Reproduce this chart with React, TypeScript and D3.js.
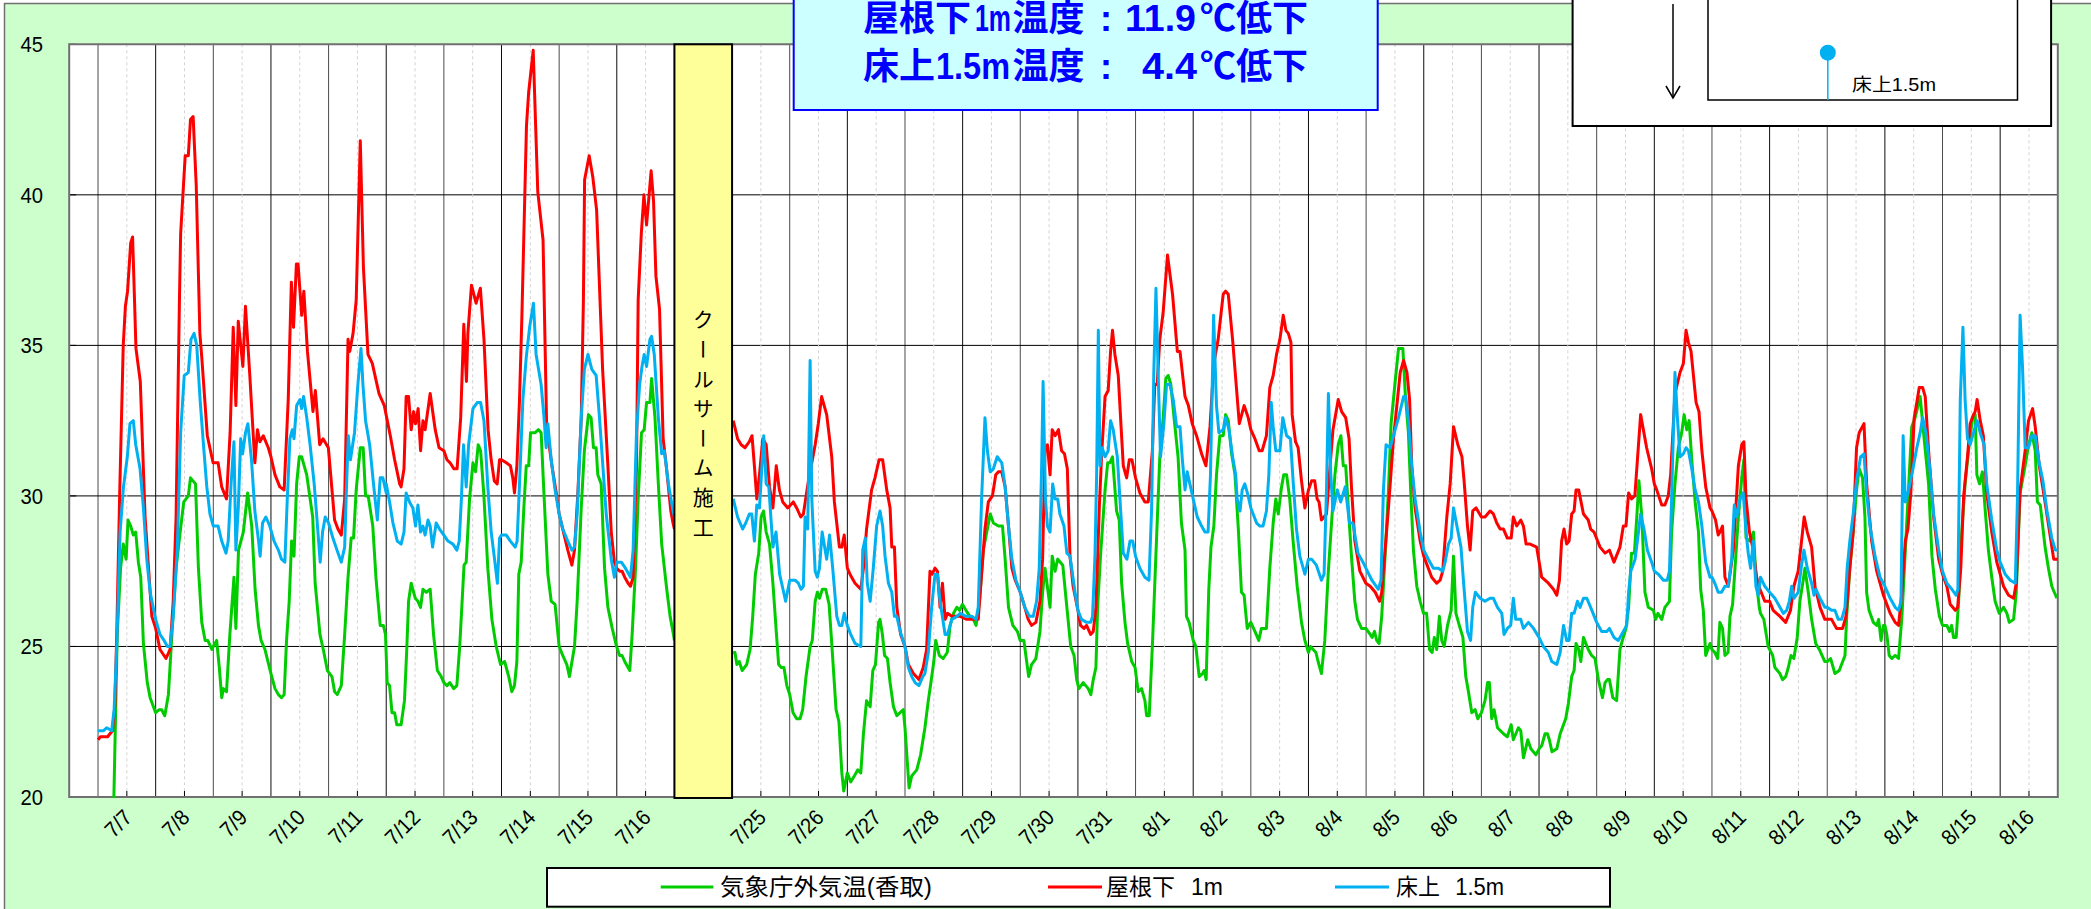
import React from 'react';
import * as d3 from 'd3';

// tick labels, one per axis day (the axis skips 7/17-7/24, the empty slot is the construction period)
const dayLabels = ['7/7','7/8','7/9','7/10','7/11','7/12','7/13','7/14','7/15','7/16','','7/25','7/26','7/27','7/28','7/29','7/30','7/31','8/1','8/2','8/3','8/4','8/5','8/6','8/7','8/8','8/9','8/10','8/11','8/12','8/13','8/14','8/15','8/16'];
const yTicks = [20,25,30,35,40,45];

// each row: one axis day, flat pairs of hour, temperature
const roofTemp: number[][] = [
[0,21.9,1,22,4,22,6,22.2,7,23,7.8,25.4,9,30,10.5,35,11.4,36.3,12.3,36.8,13.6,38.4,14.4,38.6,15.8,34.9,17.6,33.8,19.6,29.3,22.4,26],
[0,25.6,1.8,24.9,4.3,24.6,6,24.9,7.3,26.5,8.5,29.3,9.9,36.5,10.4,38.7,12.3,41.3,13.6,41.3,14.5,42.5,15.6,42.6,16.9,40.3,18.4,35.4,19.2,34.6,21.5,32,23.9,31.1],
[2,31.1,3.5,30.3,5.5,29.9,7,32.1,8.3,35.6,9.4,33,10.4,35.8,12.3,34.3,13.4,36.3,15.2,34,17.3,31.1,18.4,32.2,19.4,31.8,20.8,32,22.9,31.6],
[0,31.3,1.7,30.7,3.7,30.3,5.5,30.2,7.2,33.2,8.5,37.1,9.4,35.6,10.6,37.7,11.3,37.7,12.8,36,13.7,36.8,15.2,34.8,17.5,32.8,18.5,33.5,20.3,31.7,21.7,31.9,23.9,31.6],
[2.5,29.2,3.9,28.9,5.3,28.7,6.7,29.9,8.1,35.2,8.8,34.8,10.2,35.4,11.5,36.5,13.2,41.8,14.5,37.6,16.4,34.7,18.2,34.4,21,33.4,23.2,33],
[1.7,32,3.5,31.2,5.6,30.4,6.2,30.3,7.4,30.9,8.3,33.3,9.3,33.3,10.4,32.2,11.4,32.8,12.2,32.4,13.3,32.9,14.3,31.5,15.3,32.5,16.2,32.2,18.3,33.4,20.4,32.2,22,31.6],
[0,31.5,1.3,31.2,2.6,31.1,4.2,30.9,5.5,30.9,7,32.6,8.3,35.7,9.4,33.8,10,35.4,11.5,37,13.4,36.4,15.2,36.9,16.7,35.2,18.4,32.2,19.7,31.2,21,30.5,22.2,30.4,23.2,31.2],
[0,31.2,2,31.1,3.7,31,4.7,30.6,5.4,30.1,6.4,31,7.5,33.2,8.5,36,10.4,42.3,11.3,43.4,13.2,44.8,15.1,40.1,17.3,38.5,18.8,32.3,21,31,23,30],
[0,29.4,1.5,28.9,3.6,28.2,5.3,27.7,6.4,28.2,7.8,30.1,9.2,32.6,10.1,36.5,10.6,40.5,12.5,41.3,14,40.6,15.6,39.5,18.1,34.2,20.3,31,21.7,28.8,23,27.8],
[0,27.6,1.2,27.5,2.2,27.5,3.3,27.3,4.7,27.1,5.7,27,6.8,27.3,8.2,31,8.9,36.5,10.2,38.7,11.3,40,12.4,39,14.3,40.8,15.3,39.8,16.3,37.3,17.8,36.2,19.3,31.9,20.6,31,22.5,29.5,23.4,29.1,24,28.9],
[],
[0.5,32.5,2.3,31.9,3.8,31.7,5.4,31.6,7.2,31.8,8.3,32,9.3,31,10.3,29.9,11.4,30.7,12.8,31.9,14.2,31.7,15.6,30.3,17,29.6,18.4,31,19.7,30.2,21.1,29.8,23.2,29.6],
[1.5,29.8,2.9,29.6,4.6,29.3,5.7,29.4,7.4,30.3,9.2,31.1,10.6,31.7,11.9,32.4,13.3,33.3,15.4,32.7,17.5,31.3,18.6,29.8,20.7,28.3,21.7,28.3,22.7,28.7,24,27.6],
[1.1,27.4,3.2,27.1,5.6,26.9,6.7,27.6,8,28.9,10.1,30.2,11.5,30.6,13.2,31.2,14.7,31.2,16.4,30.2,17.8,29.6,18.5,28.3,19.6,28.3,20.6,26.3,22.2,25.4,24,25],
[1.4,24.4,3.5,24.1,5.8,23.9,7.6,24.3,9,24.9,10.4,27.5,11.3,27.4,12.5,27.6,13.5,27.5,14.6,26.3,15.6,27.1,16.7,25.9,17.7,26.1,19.5,26,21.6,26,23,26],
[1.7,25.9,3.8,25.9,6.5,25.9,7.9,27.4,9.3,28.9,10.7,29.8,12.4,30,13.8,30.7,14.9,30.8,16.3,30.8,17.7,30.3,19.1,29,20.5,27.6,21.9,27.2,24,26.8],
[1.9,26.3,3.3,25.9,4.7,25.7,6.5,25.8,8.2,26.5,9.3,27.9,10.3,31.6,11.3,31.7,12.4,30.7,13.3,32.2,14.5,32,15.9,32.2,17.2,31.5,18.4,31.4,19.6,30.9,20.7,28,22,27,24,26.2],
[1.1,25.7,2.5,25.6,3.6,25.7,5.3,25.4,6.4,25.5,7.5,26.3,8.9,29.6,9.9,31.4,11.3,33.3,12.6,33.5,13.6,34.8,14.4,35.5,15.4,34.7,16.8,34,17.9,32.4,18.9,31,20.3,30.6,21.4,31.2,22.5,31.2,24,30.6],
[1.8,30.1,3.9,29.8,5.3,29.8,7,31.5,8,33.7,9,33.7,10.1,35.2,11.5,36.1,13.3,38,15.4,36.7,17.4,34.8,18.5,34.8,20.6,33.3,22,33,23.6,32.4],
[1.4,32,3.5,31.4,5.3,31,7,32.3,8.6,34.4,10.4,35.2,12.5,36.7,13.5,36.8,14.6,36.7,16.4,35.2,18,33.6,19.2,32.4,21.2,33,22.9,32.6,24,32.2],
[1.7,31.9,3.5,31.5,4.7,31.5,6.5,32,7.9,33.6,9.3,34,10.7,34.7,12.1,35.2,13.5,36,14.6,35.5,15.6,35.4,16.7,35.1,17.2,32.7,18.6,31.8,19.7,31.6,21.1,30.5,22.5,29.6,24,30.2],
[1.3,30.5,2.6,30.5,3.6,29.9,4.4,29.8,5.4,29.2,7.5,29.4,9,31,10.2,32.2,12.4,33.2,13.8,32.8,15.5,32.6,16.9,31.9,17.9,30.3,19.3,28.5,21.4,27.5,23.9,27.1],
[1.7,27,3.8,26.8,5.6,26.5,6.5,26.8,9.3,29.6,11.4,31.9,14.2,34.1,15.6,34.5,17,34.1,18.1,33.2,19,31,20.4,29.6,22.5,28.5,24,28],
[3.3,27.3,5.4,27.1,6.8,27.2,7.9,27.5,9.6,29.3,11,30.4,12.4,32.3,14.2,31.7,15.9,31.3,16.8,30.5,18.2,29,19.3,28.2,20.4,29.5,21.8,29.6,24,29.3],
[1.5,29.3,3.6,29.5,5,29.4,6.4,29.1,7.8,28.9,9.2,28.9,10.8,28.6,12.4,28.6,13.3,29.3,14.7,29,16.4,29.2,17.5,29,18.6,28.4,20.3,28.4,23,28.3],
[1.1,27.3,3.9,27.1,6,26.9,7.4,26.7,8.5,27.2,9.4,28.5,10.4,28.9,11.5,28.4,12.5,28.5,13.6,29.4,14.6,29.5,15.4,30.2,16.5,30.2,18.5,29.4,20.5,29.2,21.5,28.9,22.9,28.8],
[1.4,28.3,3.5,28.1,5.3,28.2,7.2,27.8,9.7,28.3,11.1,29,12.2,29,13.3,30.1,14.5,29.9,15.9,30,18.3,32.7,20.8,31.6,22.9,30.9,24,30.4],
[1,30.2,3.1,29.7,4.4,29.7,5.8,30,6.8,30.7,8.6,33.4,10.7,34.1,12.1,34.4,13.2,35.5,14.2,35.1,15.3,34.8,17.4,33.1,18.6,32.8,19.8,31.5,21.4,30.3,23.2,29.6,24,29.5],
[1.5,29.2,2.6,28.7,3.3,28.8,4.4,29,5.4,27.3,6.8,27,8.9,28.2,11,31,12.4,31.7,13.3,31.8,14.2,29.9,15.6,28.8,17.2,28.2,18.6,27.3,20,26.9,22,26.5,24,26.5],
[1.5,26.2,4.3,26,6.7,25.8,8.7,26.2,10.1,27,11.9,27.5,13.3,28.5,14.4,29.3,15.7,28.8,17.5,28.3,18.9,27,21,26.3,23,25.9,24,25.9],
[1.8,25.9,3.9,25.6,6.4,25.6,7.8,26,9.4,27.6,10.8,28.8,12.2,31.6,13.3,32.1,15.3,32.4,16.4,30.4,18.5,28.5,20.6,27.5,23.4,26.7],
[2.2,26.1,4.3,25.8,5.7,25.7,7.1,26.8,8.5,28.5,9.6,28.9,10.8,30.1,12.2,32.6,13.3,33.1,14.3,33.6,15.7,33.6,16.8,33.3,18.2,31.5,20.3,29.3,22.4,27.9,24,27.4],
[1.8,27,3.2,26.4,5.3,26.2,6.3,26.3,7.6,27.6,8.8,30,10.4,31.3,11.5,32.4,12.9,32.7,13.6,32.8,14.4,33.2,15.7,32.5,17,32,18.4,30.1,20.5,28.8,22.6,27.8,24,27.4],
[1.4,27,3.5,26.7,5.6,26.6,6.7,27.1,8.3,30.2,10.4,31.5,11.8,32.5,13.5,32.9,14.6,32.3,16.3,31,18.1,30.1,20.2,29,22.3,27.9,24,27.9],
];

const outsideTemp: number[][] = [
[6.5,19.6,8,25.4,9.4,27.6,10.5,28.4,11.7,27.9,12.5,29.2,13.6,29,14.7,28.7,15.7,28.8,16.8,27.8,17.8,27.3,18.9,25.1,20.5,23.8,21.7,23.3,24,22.8],
[1.5,22.9,2.5,22.9,3.8,22.7,5.3,23.4,6.7,25.3,8.5,27.6,10.2,28.8,11.7,29.8,13.6,30,14.5,30.6,16.6,30.4,17.8,27.6,19.2,25.8,20.6,25.2,21.7,25.2,23.4,24.9,24,25],
[1.4,25.2,2.5,24.3,3.5,23.3,4.2,23.6,5.5,23.5,6.9,25.4,8.6,27.3,9.4,25.6,10.5,28.2,12.5,28.8,14.3,30.1,16,29,17.4,26.9,18.8,25.7,19.9,25.2,21.5,24.9,24,24.1],
[1.7,23.6,3.1,23.4,4.4,23.3,5.5,23.4,6.5,25.2,7.6,26.5,8.6,28.5,9.6,28,10.7,30.4,11.8,31.3,12.8,31.3,14.9,30.7,17.4,29.3,18.4,27.1,20.4,25.4,21.8,24.9,23.5,24.2],
[1.4,24,2.5,23.5,3.6,23.4,5.3,23.7,6.7,25.4,8.1,27.3,9.4,28.6,10.4,28.6,11.5,30.2,13.2,31.6,14.4,31.6,15.4,30,16.5,30,18.4,29,19.8,27.2,21.5,25.7,22.8,25.7,23.7,25.4],
[0.4,23.8,1.4,23.7,2.4,22.8,3.5,22.8,4.4,22.4,6.2,22.4,7.6,23.2,8.5,24.8,9.3,26.5,10.4,27.1,12.1,26.6,13.2,26.5,14.3,26.3,15.3,26.9,16.7,26.8,18.3,26.9,19.7,25.4,21.3,24.2,22.9,24,24,23.8],
[1.3,23.7,2.5,23.8,4.1,23.6,5.4,23.7,6.6,25,7.6,26.5,8.4,27.7,9.3,27.8,10.7,29.9,12.1,31.1,13.2,30.8,14.3,31.7,15.3,31.5,16.6,30.1,18.3,27.6,20,25.9,21.8,25,23.6,24.4],
[1.3,24.5,3,24,4.3,23.5,5.4,23.7,6.4,24.5,7.2,27.4,8.2,27.8,9.3,29.6,10.3,31,11.3,31,12.1,32.1,14,32.1,15.4,32.2,16.5,32.1,17.6,30.2,19.3,27.4,20.7,26.5,22.3,26.4,24,25],
[1.5,24.7,3.2,24.4,4.3,24,6.4,25,7.5,26.5,9.2,29.6,10.5,31.5,12.2,32.7,13.3,32.6,14.3,31.6,15.4,31.6,16.1,30.7,17.5,30.4,18.9,27.6,20.3,26.3,22.1,25.6,23.9,25],
[1.2,24.7,2.2,24.7,3.3,24.5,5.4,24.2,6.4,25.4,7.8,27.6,8.9,29.9,10.3,32.1,11.4,32.2,12.4,33.1,13.8,33.1,14.5,33.9,15.9,32.6,17.3,30.4,18.7,28.4,20.8,26.9,22.2,26,23.6,25.4,24,25.2],
[],
[0.5,24.8,1.2,24.8,2,24.4,3,24.5,4.2,24.2,6.1,24.4,7.5,24.9,8.6,26,9.7,27.4,11.1,28.1,12.1,29.3,13.1,29.5,14.2,28.8,15.6,28.4,17,27.1,18.4,25.5,19.4,24.4,20.5,24.3,21.6,24.3,22.8,23.7,24,23.4],
[1.4,22.8,2.9,22.6,4.3,22.6,5.4,22.9,6.8,24,8.5,25,9.4,25.2,10.6,26.5,11.5,26.8,12.4,26.6,13.6,26.9,15,26.9,16.4,26.4,17.5,25.1,19.3,22.9,20.5,22.5,21.7,20.8,22.5,20.2,24,20.8],
[1.4,20.5,2.9,20.7,4.3,20.9,5.6,20.8,6.7,22.1,8,23.2,9.5,23,10.6,24.2,11.7,24.4,13,25.8,13.6,25.9,14.6,25.4,15.5,24.7,16.7,24.6,17.8,23.8,19.2,23,20.6,22.7,23.3,22.9,24,22.3],
[1.7,20.3,2.8,20.7,4.9,20.9,6.5,21.4,8.3,22.3,9.7,23.2,10.8,23.8,12,24.5,12.8,25.2,14.3,24.7,15.9,24.6,17.6,24.8,18.8,25.7,20.2,26.1,21.6,26.3,22.7,26.2,23.9,26.4],
[1.4,26.2,3,26,4.5,25.9,5.6,25.7,7,26.5,8.6,28.2,10.3,28.9,11.5,29.4,12.8,29.1,14.9,29,16.6,29,17.7,27.9,19.1,26.3,20.9,25.7,22.8,25.5,24,25.2],
[1.5,25.2,3.5,24,4.7,24.4,6.5,24.6,8.2,25.5,9.3,26.8,10.3,27.6,12.4,26.3,13.3,28,14.5,27.5,15.6,27.9,17.7,27.7,19.4,26.3,21,25,22.4,24.7,23.5,23.9],
[0.4,23.6,2.2,23.8,4.3,23.6,5.4,23.4,6.4,23.9,7.5,24.3,8.2,26.3,9.4,28,11.3,30.2,12.4,31.1,13.3,31.1,14.4,31.3,16.1,29.5,17.2,29.2,18.2,27.1,19.6,25.8,20.7,25.1,22.4,24.5,23.8,24.3],
[1.1,23.5,2.5,23.6,3.9,23.2,4.6,22.7,5.7,22.7,7.1,25.2,8.7,28.5,10.1,31.3,11.5,32.6,12.6,33.9,13.6,34,14.7,33.7,15.9,32.7,17.7,31.3,19.1,29.1,20.6,28.2,21.2,26,22.3,25.8,24,25.2],
[1.1,25,2.5,24,3.9,24.1,4.6,24.2,5.4,23.9,6.5,26.9,7.4,28.3,8.6,29,9.7,30.7,11.1,32,12.5,32,13.5,32.7,14.6,32.5,16,31.4,17.4,30.7,18.8,28.9,20.1,26.8,21.2,26.7,22.5,25.6,24,25.8],
[1.7,25.5,3.3,25.2,4.4,25.6,6.5,25.6,7.9,27.6,9.3,29.1,10.4,29.9,11.4,29.4,12.8,30.3,13.7,30.7,14.9,30.7,16.2,29.9,17.6,28.5,19.3,27,21.1,25.8,22.5,25.2,24,24.8],
[0.8,25,3.1,24.8,4,24.5,5.4,24.1,6.8,25.2,8.2,27.4,9.6,29.1,11,30.7,12.4,31.7,13.5,32,14.5,31,15.5,31,16.6,29.6,17.9,28,19.3,26.5,20.4,25.9,22.1,25.6,23.9,25.6],
[1.7,25.4,2.5,25.3,3.5,25.5,4.4,25.2,5.4,25.1,6.5,26,7.9,28,9.3,30.2,10.4,32.4,12.1,33.8,13.5,34.9,15.3,34.9,16.3,33.4,17.6,32.1,18.6,30.1,19.7,28.2,21.1,27,22.5,26.5,23.9,26.1],
[1.2,26.1,2.4,24.9,3.5,24.8,4.4,25.3,5.4,24.9,6.5,26,7.5,25.2,8.5,25,9.9,25.7,11.4,26.2,12.4,28,13.4,26.1,14.8,25.7,16.3,25.3,17.5,24,18.6,23.5,20,22.8,21.4,22.9,22.5,22.6,24,22.8],
[1.5,23.2,2.6,23.8,3.3,23.8,4.3,22.6,5.3,22.9,6.7,22.3,9.2,22.1,10.8,22,12.4,22.4,13.3,21.9,15.4,22.3,16.4,22.2,17.5,21.3,19.3,21.9,20.6,21.6,22.7,21.4,24,21.6],
[1.1,21.7,2.5,22.1,3.5,22.1,4.3,21.9,5.4,21.5,7.4,21.6,8.8,22.1,11.1,22.6,12.2,23.1,13.6,24,14.6,24.2,15.4,25.1,16.5,24.9,17.4,24.5,18.5,25.3,20.5,24.9,21.9,24.7,23.3,24.6],
[0.7,23.9,2.4,23.3,3.5,23.8,4.5,23.9,5.3,23.9,6.7,23.3,8.3,23.2,9.7,24.9,10.7,25.2,12.2,25.6,13.3,26.3,14.5,28.1,15.7,28.1,16.7,29.3,17.6,30.5,18.8,29.3,20.1,26.8,21.5,26.3,23.6,26.2],
[0.6,25.9,1.5,26.1,3.1,25.9,4.4,26.3,6.3,26.5,7.2,28.8,8.6,30.4,10,31.6,11.4,32.1,12.4,32.7,13.5,32.2,14.5,32.5,15.6,31.2,17,29.8,18.4,28.8,19.3,26.9,20.4,26.2,21.4,24.7,23.2,25.1,24,24.9],
[1.2,24.8,2.4,24.6,3.3,25.8,4.4,25.6,5.4,24.7,6.7,24.8,7.5,26,8.6,26.4,9.6,27.6,11,29.3,12.4,30.6,13.3,31.2,14.2,28.6,15.8,28.5,17.3,28.8,18.3,27.3,19.7,26.3,20.2,26.1,21.6,25.9,23.4,25],
[1.3,24.7,2.2,24.3,4.3,24.1,5.4,23.9,6.7,24,7.8,24.3,8.9,24.7,10.1,24.6,11.5,25.3,12.6,26.5,13.8,27.1,14.7,27.6,16.1,26.8,17.5,25.9,19.2,25.1,20.7,24.9,23,24.5,24,24.5],
[1.4,24.6,3.2,24.1,5,24.2,7.4,24.7,8.1,26,9.4,27.6,10.8,28.8,12.2,30.2,13.3,30.9,14.7,30.6,15.7,29.3,16.4,26.8,17.4,26.2,19.2,25.8,20.6,25.7,21.4,25.9,22.4,25.2,23.4,25.7,24,25.7],
[0.8,25.4,1.8,24.7,2.9,24.6,4.3,24.7,5.7,24.6,7.1,26,8.9,28.8,11.2,32.3,12.6,32.6,14.7,33.3,16.1,32.1,18.2,30.4,19.6,28,21,26.9,22.7,26,24,25.7],
[1.8,25.7,2.9,25.5,3.8,25.7,4.6,25.3,5.7,25.3,6.7,26.5,8,28.8,9.4,30.4,10.8,31.5,12.5,32.6,13.6,32.7,14.3,30.7,15.4,30.4,16.6,30.8,17.7,29.6,19.1,28.2,20.5,27.3,21.9,26.5,23.6,26.1],
[1.4,26.3,2.8,26.1,3.8,25.8,5.6,25.9,6.7,26.8,8.3,30.1,10.4,31,11.8,31.7,13.2,32.1,14.6,31.5,15.5,29.8,16.7,29.7,18.7,28.3,20.1,27.6,21.5,27,23.6,26.6],
];

const floorTemp: number[][] = [
[0,22.2,2.2,22.2,3.6,22.3,5.7,22.2,6.7,22.9,7.8,25,9.2,28.8,10.6,30.3,12.2,31.3,13.3,32.4,14.7,32.5,15.7,31.7,17.5,30.9,18.9,29.6,20.3,27.9,21.7,26.8,24,25.9],
[1.8,25.4,3.5,25.2,4.9,25,6,25,7.3,26,9,28.2,10.4,32.1,11.9,34,13.6,34.1,14.7,35.2,16,35.4,17.1,35,18.5,33.2,19.9,31.7,21.3,30.3,22.6,29.4,24,29],
[2,29,3.5,28.5,5.3,28.1,6.2,28.5,7.4,30.4,8.6,31.8,9.4,28.2,10.4,29.6,11.4,31.9,12.2,31.4,13.4,32.1,14.4,32.4,15.9,31.2,17.3,29.5,18.7,28.6,19.5,28,20.5,29.1,21.9,29.3,23.5,29],
[1.3,28.5,3.1,28.2,4.4,27.9,5.8,27.8,6.8,29.9,7.9,31.9,8.9,32.2,9.6,31.9,10.7,33,12.1,33.2,12.8,32.9,13.6,33.3,14.9,32.6,16.3,31.7,18,30.4,19.1,29.3,20.5,27.8,21.5,28.8,22.6,29.3,24,29.1],
[1.8,28.6,3.5,28.2,5.3,27.8,6.7,28.3,7.3,29.9,8.2,32,9.1,31.2,10.8,32.1,12.2,33.7,13.5,34.9,14.3,33.7,15.4,32.5,17.1,31.7,18.7,30.4,20.3,29.2,21.5,30.6,22.6,30.6,24,30.1],
[0,30.4,1.4,29.8,2.8,29.1,4.6,28.5,6.2,28.4,7.4,28.8,8.3,30.1,9.7,29.8,11.1,29.6,12.2,29,13.2,29.7,14.3,28.8,15.3,29,16.2,28.7,17.4,29.2,18.3,29,19.3,28.3,20.8,29.1,22.2,28.9,24,28.7],
[1.7,28.5,3.8,28.4,5.4,28.2,6.4,28.5,7.3,29.9,8.2,31.7,9.3,30.3,10.3,31.7,12.1,32.9,13.9,33.1,15.3,33.1,16.7,32.5,18.3,30.3,19.7,28.8,21.1,27.9,22.3,27.1,23.2,28.6,24,28.7],
[2,28.7,3.7,28.5,5.7,28.3,6.5,28.5,7.5,30.4,8.9,33.2,10.3,34.6,11.7,35.6,13.3,36.4,14.4,34.7,16.5,33.7,17.6,32.7,18.6,31.6,19.3,32.4,20.7,31.2,22.3,30.2,24,29.4],
[1.5,28.9,3.6,28.5,5.3,28.2,6.4,28.3,7.5,29.4,9.2,32.6,10.5,34.2,12,34.7,13.6,34.2,15.4,34,16.8,32.6,18.2,31,19.6,29.4,21.7,27.9,23,27.3,24,27.8],
[1.9,27.8,3.6,27.6,5.7,27.3,6.8,28.2,8.2,32.1,9.5,33.7,10.5,34.3,11.4,34.7,12.4,34.3,13.8,35.2,14.5,35.3,15.6,34.7,17.3,32.6,18.7,31.4,19.8,31.5,21.5,30.4,23.2,29.6,24,29.3],
[],
[0.5,29.9,2.3,29.3,4.4,28.9,5.7,29.1,7.2,29.4,8.2,29.4,9.3,28.5,10.3,29.7,11.4,29.6,13.2,32,14.2,30.4,15.3,30.3,17,28.3,18.3,28.8,19.8,27.4,21.2,26.9,22.3,26.5,24,27.2],
[2.2,27.2,3.6,27.1,4.7,26.9,5.7,27,6.4,29.3,7.5,28.9,8.5,34.5,9.2,29.9,10.6,27.5,11.5,27.3,12.4,27.6,13.5,28.8,15.4,27.9,16.6,28.7,17.9,27.6,19.6,26,20.7,25.7,21.7,25.7,22.7,26.1,24,25.7],
[1.4,25.4,3.2,25.1,5.6,25,6.4,28.2,7.5,28.6,8.3,27.1,9.5,26.5,10.8,27.6,12.2,29,13.6,29.5,14.7,29,15.7,28,17.1,27.1,18.5,26.8,19.6,26,20.6,26,22,25.5,24,25],
[1.4,24.3,2.8,24,4.2,23.8,5.8,23.7,7.4,24,8.3,24.1,9.7,24.8,11.1,26.3,12.5,27.4,13.5,27.4,14.6,26.5,16.7,25.4,17.7,25.4,19.5,25.9,21.6,26,23,26.1],
[1.4,26,3.8,26,5.6,25.9,6.5,26.3,7.9,29.9,9.3,32.6,10.3,31.5,11.5,30.8,12.8,30.9,14.4,31.3,16.3,31.1,17.7,30.3,19.1,29,20.5,27.9,22.2,27.2,24,26.8],
[1.9,26.3,3.8,26,5.4,26,6.8,26.5,7.9,27.6,8.9,31,9.5,33.8,10.5,29.9,11.3,29,12.4,28.8,13.5,30.4,14.5,29.9,15.6,29.9,16.5,29.4,18.2,29,19.4,28.1,20.7,28,22.8,26.8,24,26.2],
[1.5,25.9,3.6,25.8,5.3,25.8,6.1,26,7.1,28,7.8,30.7,8.5,35.5,9.2,31,10.1,31.6,11.3,31.3,12.6,31.5,13.6,32.5,14.7,32.2,16.4,31.3,17.5,29.9,18.9,28.1,20.4,27.9,21.7,28.5,22.8,28.5,24,28],
[1.8,27.6,3.9,27.3,5.6,27.2,6.7,29.6,7.6,34.1,8.5,36.9,9.4,34.1,10.4,31.3,11.8,32.4,12.9,33.7,14.3,33.7,15.7,33.2,17.1,32.3,18.5,32.3,19.5,31.2,20.6,30.2,21.5,30.8,22.9,30.3,24,29.9],
[1.7,29.3,3.5,29,4.9,28.8,6.2,28.8,7.2,30.7,8.5,36,9.7,33,10.7,32.1,12.5,32.2,13.5,32.6,14.9,32.2,16.4,31.3,17.7,30.7,18.3,29.9,19.5,29.5,20.4,30.2,21.5,30.4,22.9,30,24,29.6],
[2.4,29.1,3.8,29,5.1,29,6.5,29.5,7.5,30.7,8.5,33.1,9.3,32.3,10.4,31.5,12.1,31.5,13.3,32.6,14.9,32,16.5,31.9,17.6,30.5,19,28.9,20.4,28,22.5,27.4,24,27.9],
[1.3,27.9,3.3,27.7,5.4,27.2,6.5,27.4,7.5,30.2,8.3,33.4,9.3,30.7,10.2,29.5,12,30.2,13.4,29.8,15.3,30.3,17.1,29.1,18.5,29.1,20.6,28.1,22.7,27.8,23.9,27.6],
[2.4,27.2,5.1,26.9,6.2,27.2,7.2,30.2,8.3,31.7,10,31.6,11.4,32,13.5,32.6,15.6,33.3,16.5,33.3,17.6,32.5,19,31,20.4,29.9,22.5,28.8,24,28.2],
[1.9,27.9,4,27.6,6.1,27.6,7.9,27.5,8.9,27.8,10.3,28.4,11.4,28.6,12.4,29.6,13.8,29,15.5,28.3,16.6,27.1,18.2,25.5,19.5,25.2,20.4,26.3,21.5,26.8,23.5,26.6],
[1.5,26.5,3.6,26.6,5,26.6,6.7,26.3,8.5,26.1,9.4,25.4,10.8,25.6,12.2,25.7,13.3,26.6,14.3,25.9,16.4,25.9,17.5,25.6,19.6,25.8,21.7,25.6,24,25.3],
[1.8,25,3.9,24.8,5.3,24.5,7.4,24.4,8.8,24.8,10.2,25.7,11.5,25.2,12.5,25.2,13.6,26.1,14.6,26.1,16,26.5,17.1,26.3,18.5,26.6,19.9,26.6,22,26.2,24,25.8],
[2.1,25.5,4.2,25.5,5.3,25.6,7.2,25.3,9,25.2,10.4,25.4,12.5,25.7,13.3,26.8,14.2,27.5,16,27.9,17.4,28.8,18.3,29.4,19.7,28.9,21.1,28.2,22.9,27.8,24,27.5],
[1.7,27.4,3.8,27.2,5.4,27.2,6.3,27.5,7.2,29.9,8.6,34.1,9.6,32.6,10.7,31.3,12.1,31.4,13.2,31.6,14.2,31.5,15.6,30.9,17,30.2,18.4,29.8,19.8,29,21.4,27.8,23.2,27.3,24,27.3],
[1.2,27.1,2.6,26.8,4,26.8,5.4,27,6.8,27,8.2,27.9,9.3,29.7,10.3,29.3,11.7,29.9,13,30.1,14.2,28.8,15.1,28.1,16.1,27.6,17.2,28.5,18.3,27,19.3,26.7,20.2,27.3,22,27,24,26.8],
[2.2,26.6,4.3,26.3,5.7,26.1,7.1,26.2,8.2,26.5,9.2,27,10.1,26.6,11.9,26.8,13.3,27.7,14.3,28.2,15.7,27.6,17.5,27.1,18.5,26.7,19.3,26.9,21,26.6,23,26.3,24,26.3],
[1.8,26.2,3.2,26.2,4.6,25.9,6,25.9,7.4,26.3,8.3,27.6,9.4,28.5,10.8,29.4,12.2,30.5,13.9,31.3,15.3,31.4,16.4,30.1,17.8,29,19.9,28,22,27.3,24,27],
[2.2,26.6,4.3,26.3,5.7,26.2,6.7,26.5,7.6,32,8.5,29.8,9.9,30.2,11.7,30.9,13.3,31.6,14.7,32.1,15.7,32.6,17.1,32.1,18.6,31,20.3,29.4,22.4,28.2,24,27.5],
[1.8,27.1,3.9,26.9,5.6,26.7,6.4,26.9,7.4,33.2,8.5,35.6,9.4,33.2,10.4,31.9,11.5,31.7,12.9,32.1,14.4,32.5,15.7,32.1,17.3,31.7,18.4,30.4,20.5,29.2,22.6,28.2,24,27.8],
[2.1,27.4,4.2,27.2,6.3,27.1,7.2,29.9,8.3,36,9.3,34.3,10.4,31.6,11.8,31.6,13.2,32,14.6,32,16,31.2,17.8,30.5,19.5,29.5,21.5,28.6,23,28.2,24,28.2],
];

const seriesStyles = [
  { name: '気象庁外気温(香取)', rows: outsideTemp, color: '#00CC00' },
  { name: '屋根下\u2002\u20091m', rows: roofTemp, color: '#FF0000' },
  { name: '床上\u2002\u20091.5m', rows: floorTemp, color: '#00B0F0' },
];

const construction = 'クールサーム施工';
// note lines, as pieces: text, left edge, fitted width
const noteLine1: [string, number, number?][] = [['屋根下',863],['1m',975,36],['温度',1012.5],[':',1100],['11.9',1125,71],['℃低下',1200]];
const noteLine2: [string, number, number?][] = [['床上',863],['1.5m',936,74],['温度',1012.5],[':',1100],['4.4',1142,55],['℃低下',1200]];

const W = 2091, H = 909;
const FONT = '"Liberation Sans","Noto Sans CJK JP",sans-serif';
const x = d3.scaleLinear().domain([-0.5, 34]).range([69.2, 2057.8]);
const y = d3.scaleLinear().domain([20, 45]).range([797, 44.3]);
const line = d3.line<[number, number] | null>()
  .defined(d => d !== null)
  .x(d => x(d![0]))
  .y(d => y(d![1]));

function toPoints(rows: number[][]) {
  const out: ([number, number] | null)[] = [];
  rows.forEach((row, day) => {
    if (!row.length) out.push(null);
    for (let i = 0; i < row.length; i += 2) out.push([day + row[i] / 24, row[i + 1]]);
  });
  return out;
}

export default function App() {
  const [x0, x1] = x.range();
  const yT = y(45), yB = y(20);
  const dayLines = d3.range(0, 34);
  const legendPos = [[660.7, 713.4, 720, 212], [1048, 1102, 1106, 117], [1335, 1389, 1396, 108]];
  return (
    <svg width={W} height={H} style={{ position: 'absolute', left: 0, top: 0, display: 'block', background: '#fff' }} fontFamily={FONT}>
      <defs>
        <clipPath id="plotClip"><rect x={x0} y={yT - 2} width={x1 - x0} height={yB - yT + 3} /></clipPath>
      </defs>
      <rect x={4.5} y={3.5} width={W} height={H} fill="#CCFFCC" stroke="#707070" strokeWidth={1.5} />
      <rect x={x0} y={yT} width={x1 - x0} height={yB - yT} fill="#fff" />
      {yTicks.slice(1, 5).map(t => (
        <line key={t} x1={x0} x2={x1} y1={y(t)} y2={y(t)} stroke="#000" strokeWidth={1} />
      ))}
      {dayLines.map(d => (
        <line key={d} x1={x(d)} x2={x(d)} y1={yT} y2={yB} stroke="#000" strokeWidth={1} opacity={d % 2 ? 0.95 : 0.7} />
      ))}
      {dayLabels.map((l, i) => l ? (
        <g key={i}>
          <line x1={x(i + 0.5)} x2={x(i + 0.5)} y1={yT} y2={yB} stroke="#D2D2D2" strokeWidth={1} strokeDasharray="3 3" />
          <line x1={x(i + 0.5)} x2={x(i + 0.5)} y1={yB - 6} y2={yB} stroke="#000" strokeWidth={1} />
        </g>
      ) : null)}
      {yTicks.map(t => (
        <line key={t} x1={x0} x2={x0 + 7} y1={y(t)} y2={y(t)} stroke="#000" strokeWidth={1} />
      ))}
      <path d={`M${x0},${yB}V${yT}H${x1}V${yB}Z`} fill="none" stroke="#707070" strokeWidth={2} />
      <g clipPath="url(#plotClip)">
        {seriesStyles.map(s => (
          <path key={s.name} d={line(toPoints(s.rows)) || ''} fill="none" stroke={s.color} strokeWidth={3} strokeLinejoin="round" />
        ))}
      </g>
      <rect x={x(10)} y={yT} width={x(11) - x(10)} height={yB - yT + 1} fill="#FFFF99" stroke="#000" strokeWidth={2} />
      <text x={(x(10) + x(11)) / 2} y={309} fontSize={21} fill="#000" textAnchor="start"
        style={{ writingMode: 'vertical-rl', letterSpacing: '8.6px', fontFamily: '"Noto Sans CJK JP",sans-serif' }}>{construction}</text>
      {yTicks.map(t => (
        <text key={t} x={20.5} y={y(t) + 8} fontSize={22} textLength={22.5} lengthAdjust="spacingAndGlyphs" fill="#000">{t}</text>
      ))}
      {dayLabels.map((l, i) => l ? (
        <text key={i} transform={`translate(${x(i + 0.5) + 6.5},${yB + 22}) rotate(-45) scale(0.91,1)`} fontSize={22} textAnchor="end" fill="#000">{l}</text>
      ) : null)}

      <rect x={793.7} y={-10} width={584} height={120} fill="#CCFFFF" stroke="#0000FF" strokeWidth={2} />
      {[noteLine1, noteLine2].map((pieces, i) => (
        <text key={i} y={31 + i * 48} fontSize={36} fontWeight={700} fill="#0000FF">
          {pieces.map(([s, px, len]) => (
            <tspan key={s} x={px} textLength={len} lengthAdjust={len ? 'spacingAndGlyphs' : undefined}>{s}</tspan>
          ))}
        </text>
      ))}

      <rect x={1572.6} y={-10} width={478.5} height={136} fill="#fff" stroke="#000" strokeWidth={2} />
      <line x1={1673} x2={1673} y1={4} y2={98} stroke="#000" strokeWidth={1.5} />
      <path d="M1666,86L1673,98L1680,86" fill="none" stroke="#000" strokeWidth={1.5} />
      <path d="M1708,-2V100H2017.5V-2" fill="none" stroke="#000" strokeWidth={1.5} />
      <line x1={1827.8} x2={1827.8} y1={52} y2={100} stroke="#00B0F0" strokeWidth={1.5} />
      <circle cx={1827.8} cy={52.7} r={8} fill="#00B0F0" />
      <text x={1852} y={91} fontSize={18} fill="#000" textLength={84} lengthAdjust="spacingAndGlyphs">床上1.5m</text>

      <rect x={547} y={868} width={1063} height={38.7} fill="#fff" stroke="#000" strokeWidth={2} />
      {seriesStyles.map((s, i) => (
        <g key={s.name}>
          <line x1={legendPos[i][0]} x2={legendPos[i][1]} y1={887} y2={887} stroke={s.color} strokeWidth={3} />
          <text x={legendPos[i][2]} y={895} fontSize={23} fill="#000" textLength={legendPos[i][3]} lengthAdjust="spacingAndGlyphs">{s.name}</text>
        </g>
      ))}
    </svg>
  );
}
